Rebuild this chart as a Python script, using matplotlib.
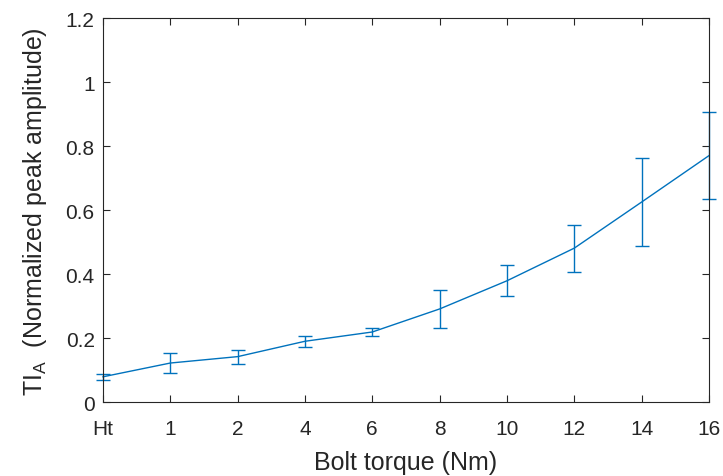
import matplotlib
matplotlib.use("Agg")
import matplotlib.pyplot as plt
import numpy as np

# Bolt torque levels and measured TI_A statistics
torque_labels = ["Ht", "1", "2", "4", "6", "8", "10", "12", "14", "16"]
ti_mean = [0.079, 0.122, 0.142, 0.190, 0.219, 0.291, 0.379, 0.481, 0.625, 0.770]
ti_err = [0.010, 0.031, 0.022, 0.018, 0.014, 0.060, 0.048, 0.073, 0.137, 0.135]

plt.rcParams["font.family"] = ["Liberation Sans", "DejaVu Sans"]
plt.rcParams["mathtext.fontset"] = "custom"
plt.rcParams["mathtext.rm"] = "Liberation Sans"
plt.rcParams["mathtext.it"] = "Liberation Sans"

text_col = "#262626"
line_col = "#0072BD"

fig = plt.figure(figsize=(7.23, 4.77), dpi=100)
ax = fig.add_axes([0.1425, 0.155, 0.838, 0.805])

x = np.arange(len(torque_labels))
eb = ax.errorbar(x, ti_mean, yerr=ti_err, color=line_col, lw=1.0,
                 elinewidth=1.0, capsize=4.8, capthick=1.0)
for artist in eb.lines[0:1] + tuple(eb.lines[1]) + tuple(eb.lines[2]):
    artist.set_clip_on(False)

ax.set_xlim(0, len(torque_labels) - 1)
ax.set_ylim(0, 1.2)
ax.set_xticks(x)
ax.set_xticklabels(torque_labels)
ax.set_yticks([0, 0.2, 0.4, 0.6, 0.8, 1.0, 1.2])
ax.set_yticklabels(["0", "0.2", "0.4", "0.6", "0.8", "1", "1.2"])

ax.tick_params(direction="in", length=5, width=0.8, colors=text_col,
               labelsize=15, top=True, right=True)
ax.tick_params(axis="x", pad=12.5)
ax.tick_params(axis="y", pad=6)
for s in ax.spines.values():
    s.set_color(text_col)
    s.set_linewidth(0.8)

ax.set_xlabel("Bolt torque (Nm)", fontsize=18, color=text_col, labelpad=8)
ax.set_ylabel(r"TI$_{\mathrm{A}}$  (Normalized peak amplitude)", fontsize=18,
              color=text_col, labelpad=12)

fig.savefig("out.png", dpi=100)
